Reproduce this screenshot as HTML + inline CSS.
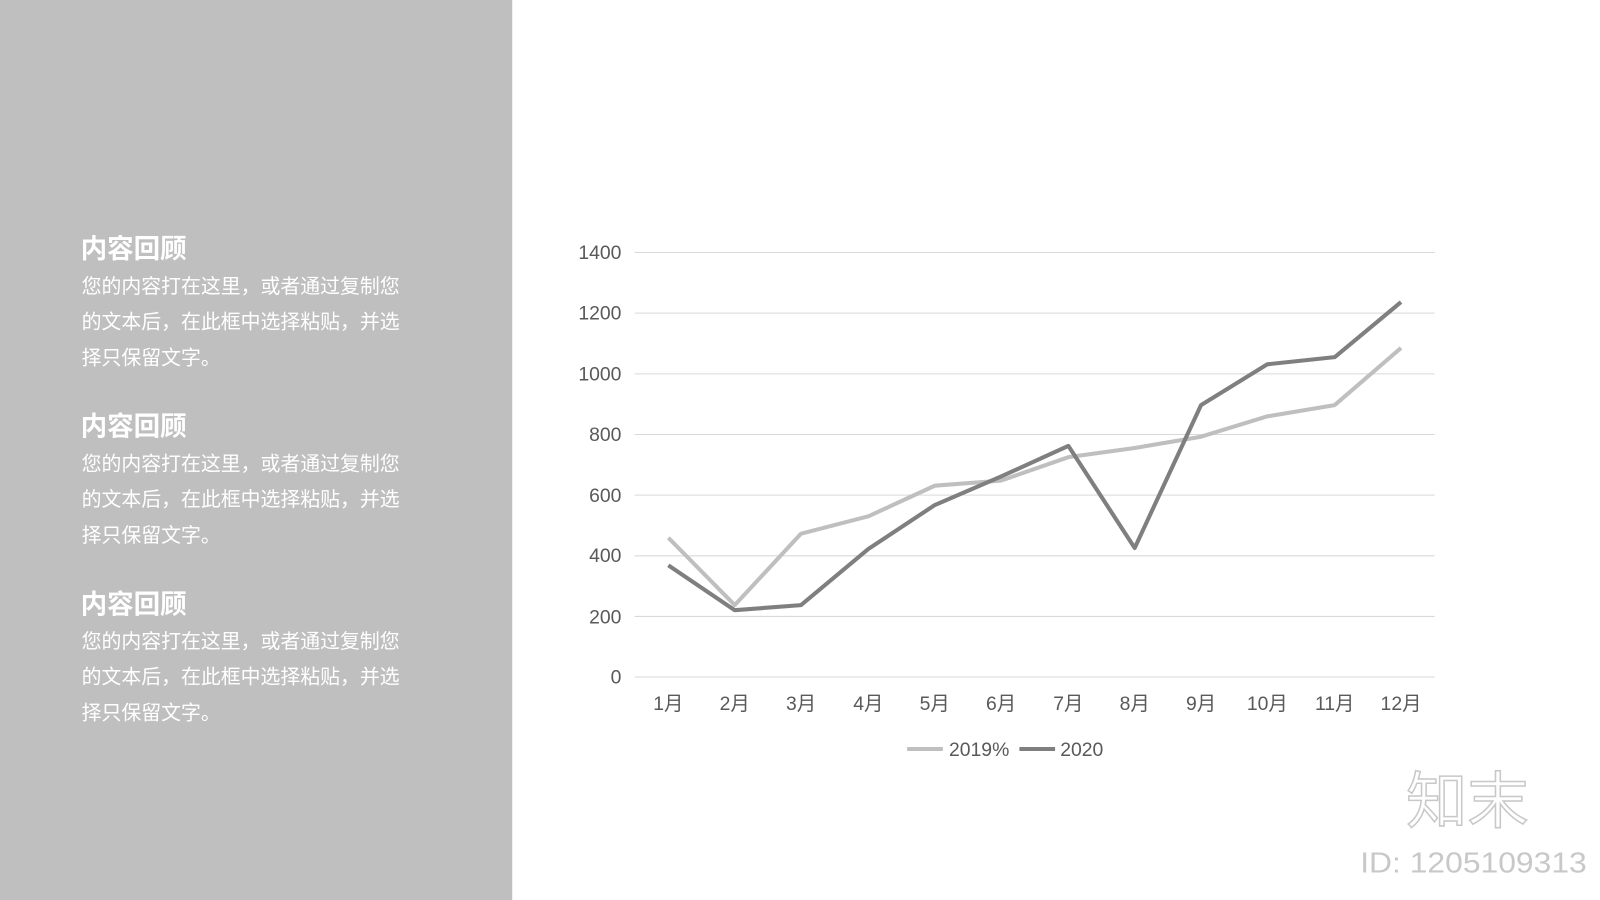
<!DOCTYPE html>
<html><head><meta charset="utf-8"><style>
html,body{margin:0;padding:0;width:1600px;height:900px;overflow:hidden;background:#fff}
svg{display:block}
text{font-family:"Liberation Sans","Noto Sans CJK SC",sans-serif}
</style></head><body>
<svg width="1600" height="900" viewBox="0 0 1568 882" preserveAspectRatio="none">
<rect x="0" y="0" width="502" height="882" fill="#bfbfbf"/>
<g fill="#fff">
<text x="79" y="253" font-size="26" font-weight="bold">内容回顾</text>
<text x="80" y="287" font-size="19.5">您的内容打在这里，或者通过复制您</text>
<text x="80" y="322" font-size="19.5">的文本后，在此框中选择粘贴，并选</text>
<text x="80" y="357" font-size="19.5">择只保留文字。</text>
<text x="79" y="427" font-size="26" font-weight="bold">内容回顾</text>
<text x="80" y="461" font-size="19.5">您的内容打在这里，或者通过复制您</text>
<text x="80" y="496" font-size="19.5">的文本后，在此框中选择粘贴，并选</text>
<text x="80" y="531" font-size="19.5">择只保留文字。</text>
<text x="79" y="601" font-size="26" font-weight="bold">内容回顾</text>
<text x="80" y="635" font-size="19.5">您的内容打在这里，或者通过复制您</text>
<text x="80" y="670" font-size="19.5">的文本后，在此框中选择粘贴，并选</text>
<text x="80" y="705" font-size="19.5">择只保留文字。</text>
</g>
<g stroke="#d9d9d9" stroke-width="1">
<line x1="622" x2="1406" y1="247.5" y2="247.5"/>
<line x1="622" x2="1406" y1="306.9" y2="306.9"/>
<line x1="622" x2="1406" y1="366.4" y2="366.4"/>
<line x1="622" x2="1406" y1="425.8" y2="425.8"/>
<line x1="622" x2="1406" y1="485.2" y2="485.2"/>
<line x1="622" x2="1406" y1="544.7" y2="544.7"/>
<line x1="622" x2="1406" y1="604.1" y2="604.1"/>
<line x1="622" x2="1406" y1="663.5" y2="663.5"/>
</g>
<g fill="#595959" font-size="19" text-anchor="end">
<text x="609" y="254">1400</text><text x="609" y="313">1200</text><text x="609" y="373">1000</text>
<text x="609" y="432">800</text><text x="609" y="492">600</text><text x="609" y="551">400</text>
<text x="609" y="611">200</text><text x="609" y="670">0</text>
</g>
<g fill="#595959" font-size="19" text-anchor="middle">
<text x="655" y="696">1月</text><text x="720" y="696">2月</text><text x="785" y="696">3月</text>
<text x="851" y="696">4月</text><text x="916" y="696">5月</text><text x="981" y="696">6月</text>
<text x="1047" y="696">7月</text><text x="1112" y="696">8月</text><text x="1177" y="696">9月</text>
<text x="1242" y="696">10月</text><text x="1308" y="696">11月</text><text x="1373" y="696">12月</text>
</g>
<polyline fill="none" stroke="#bfbfbf" stroke-width="4" stroke-linejoin="round"
points="655,527 720,593 785,523 851,506 916,476 981,471 1047,448 1112,439 1177,428 1242,408 1308,397 1373,341"/>
<polyline fill="none" stroke="#7f7f7f" stroke-width="4" stroke-linejoin="round"
points="655,554 720,598 785,593 851,538 916,495 981,467 1047,437 1112,537 1177,397 1242,357 1308,350 1373,296"/>
<line x1="889" x2="924" y1="734" y2="734" stroke="#bfbfbf" stroke-width="4"/>
<text x="930" y="741" font-size="19" fill="#595959">2019%</text>
<line x1="999" x2="1034" y1="734" y2="734" stroke="#7f7f7f" stroke-width="4"/>
<text x="1039" y="741" font-size="19" fill="#595959">2020</text>
<text x="1378" y="806" font-size="60" fill="none" stroke="#c8c8c8" stroke-width="1.5">知末</text>
<text x="1333" y="855" font-size="28" fill="#c8c8c8" textLength="222" lengthAdjust="spacingAndGlyphs">ID: 1205109313</text>
</svg>
</body></html>
